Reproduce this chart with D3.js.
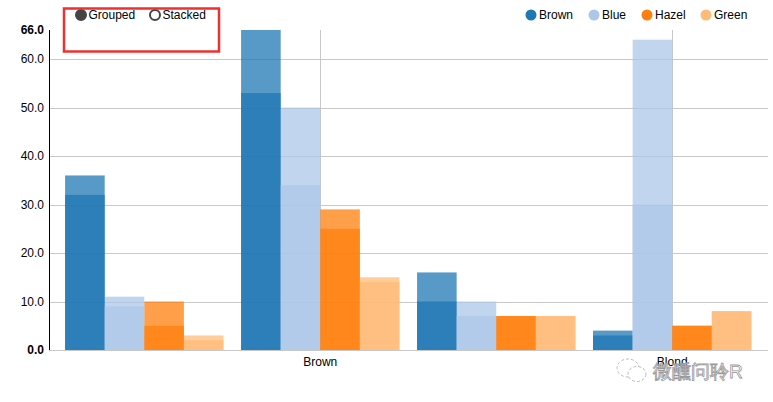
<!DOCTYPE html>
<html><head><meta charset="utf-8">
<script src="https://cdn.jsdelivr.net/npm/d3@7"></script>
<style>body{margin:0;background:#fff;} text{font-family:Arial,"Liberation Sans",sans-serif;}</style>
</head><body>
<svg id="chart" width="773" height="402"></svg>
<script>
const hair = ["Black", "Brown", "Red", "Blond"];
const eyes = ["Brown", "Blue", "Hazel", "Green"];
const eyeColors = ["#1f77b4", "#aec7e8", "#ff7f0e", "#ffbb78"];
// counts per hair category, one value per eye colour
const male = [[32, 11, 10, 3], [53, 50, 25, 15], [10, 10, 7, 7], [3, 30, 5, 8]];
const female = [[36, 9, 5, 2], [66, 34, 29, 14], [16, 7, 7, 7], [4, 64, 5, 8]];
const yTicks = [0, 10, 20, 30, 40, 50, 60];
const yMax = 66;
const shownXLabels = ["Brown", "Blond"];

const svg = d3.select("#chart");
const mLeft = 49, mRight = 769, mTop = 30, mBottom = 350;

const x = d3.scaleBand().domain(hair).range([mLeft - 1.5, mRight]).paddingInner(0.1).paddingOuter(0.1);
const xi = d3.scaleBand().domain(eyes).range([0, x.bandwidth()]);
const y = d3.scaleLinear().domain([0, yMax]).range([mBottom, mTop]);

// grid lines
svg.append("g").selectAll("line").data(yTicks.filter(d => d > 0)).join("line")
  .attr("x1", mLeft).attr("x2", 768).attr("y1", d => Math.round(y(d)) + 0.5).attr("y2", d => Math.round(y(d)) + 0.5)
  .attr("stroke", "#c8c8c8").attr("stroke-width", 1);
// x tick lines (vertical)
svg.append("g").selectAll("line").data(shownXLabels).join("line")
  .attr("x1", d => Math.round(x(d) + x.bandwidth() / 2) + 0.5).attr("x2", d => Math.round(x(d) + x.bandwidth() / 2) + 0.5)
  .attr("y1", mTop).attr("y2", mBottom).attr("stroke", "#c8c8c8");

// bars
const groups = svg.append("g").selectAll("g").data(hair).join("g")
  .attr("transform", d => `translate(${x(d)},0)`);
[male, female].forEach(series => {
  groups.each(function(h, hi) {
    d3.select(this).append("g").selectAll("rect").data(eyes).join("rect")
      .attr("x", e => xi(e)).attr("width", xi.bandwidth())
      .attr("y", (e, ei) => y(series[hi][ei]))
      .attr("height", (e, ei) => y(0) - y(series[hi][ei]))
      .attr("fill", (e, ei) => eyeColors[ei]).attr("fill-opacity", 0.75);
  });
});

// x axis baseline
svg.append("line").attr("x1", mLeft).attr("x2", 768).attr("y1", mBottom + 0.5).attr("y2", mBottom + 0.5)
  .attr("stroke", "#c8c8c8");
// y axis line
svg.append("line").attr("x1", mLeft + 0.5).attr("x2", mLeft + 0.5).attr("y1", mTop).attr("y2", mBottom)
  .attr("stroke", "#000");

// y tick labels
const fmt = d3.format(".1f");
svg.append("g").selectAll("text").data(yTicks).join("text")
  .attr("x", 44).attr("y", d => y(d)).attr("dy", "0.35em").attr("text-anchor", "end")
  .attr("font-size", 12).attr("font-weight", d => d === 0 ? "bold" : "normal")
  .attr("fill", "#000").text(d => fmt(d));
svg.append("text").attr("x", 44).attr("y", y(yMax)).attr("dy", "0.35em").attr("text-anchor", "end")
  .attr("font-size", 12).attr("font-weight", "bold").text(fmt(yMax));

// x labels
svg.append("g").selectAll("text").data(shownXLabels).join("text")
  .attr("x", d => x(d) + x.bandwidth() / 2).attr("y", 366).attr("text-anchor", "middle")
  .attr("font-size", 12).text(d => d);

// legend
const legX = [531, 594, 647, 706];
const leg = svg.append("g").selectAll("g").data(eyes).join("g")
  .attr("transform", (d, i) => `translate(${legX[i]},15)`);
leg.append("circle").attr("r", 5.5).attr("fill", (d, i) => eyeColors[i]);
leg.append("text").attr("x", 8).attr("dy", "0.35em").attr("font-size", 12).text(d => d);

// controls
const ctrl = [{label: "Grouped", x: 81, on: true}, {label: "Stacked", x: 155, on: false}];
const cg = svg.append("g").selectAll("g").data(ctrl).join("g")
  .attr("transform", d => `translate(${d.x},15)`);
cg.append("circle").attr("r", 5).attr("fill", d => d.on ? "#444" : "#fff")
  .attr("stroke", "#444").attr("stroke-width", 2);
cg.append("text").attr("x", 7.5).attr("dy", "0.35em").attr("font-size", 12).text(d => d.label);

// red highlight rectangle
svg.append("rect").attr("x", 64).attr("y", 8.5).attr("width", 155).attr("height", 43)
  .attr("fill", "none").attr("stroke", "#f03030").attr("stroke-width", 2.5);

// watermark
const wm = svg.append("g").attr("transform", "translate(617,370)");
wm.append("ellipse").attr("cx", 11).attr("cy", -2).attr("rx", 11).attr("ry", 9)
  .attr("fill", "none").attr("stroke", "#bbb").attr("stroke-dasharray", "3,2");
wm.append("ellipse").attr("cx", 20).attr("cy", 4).attr("rx", 9).attr("ry", 7.5)
  .attr("fill", "#fff").attr("stroke", "#bbb").attr("stroke-dasharray", "3,2");
wm.append("text").attr("x", 36).attr("y", 8).attr("font-size", 19)
  .attr("font-family", "'Noto Sans CJK SC', sans-serif")
  .attr("fill", "#fff").attr("stroke", "#999").attr("stroke-width", 0.8).text("微醺问聆R");
</script>
</body></html>
